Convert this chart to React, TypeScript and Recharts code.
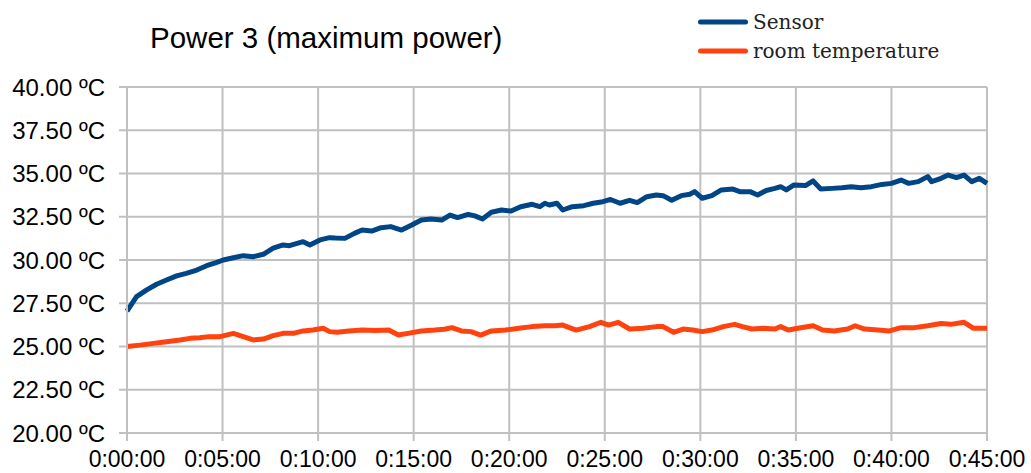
import React from "react";
import { LineChart, Line, XAxis, YAxis, CartesianGrid, Legend } from "recharts";

const chartTitle = "Power 3 (maximum power)";
const sensorName = "Sensor";
const roomName = "room temperature";

const xTicks = [0, 300, 600, 900, 1200, 1500, 1800, 2100, 2400, 2700];
const yTicks = [20, 22.5, 25, 27.5, 30, 32.5, 35, 37.5, 40];

const sensorTimes = [
  0, 30, 62, 93, 124, 156, 186, 219, 250, 282, 302, 334, 365, 396, 428, 459, 490, 510, 553, 574,
  606, 636, 654, 684, 714, 738, 768, 798, 828, 862, 894, 924, 954, 988, 1014, 1038, 1071, 1092,
  1116, 1144, 1176, 1206, 1236, 1272, 1296, 1312, 1326, 1350, 1368, 1398, 1434, 1464, 1494, 1518,
  1548, 1578, 1602, 1632, 1662, 1683, 1710, 1740, 1767, 1782, 1806, 1836, 1866, 1902, 1924, 1956,
  1980, 2007, 2034, 2052, 2070, 2094, 2130, 2154, 2178, 2214, 2244, 2274, 2304, 2337, 2370, 2400,
  2430, 2454, 2484, 2514, 2526, 2556, 2578, 2604, 2628, 2652, 2676, 2700,
];
const sensorValues = [
  27.05, 27.88, 28.27, 28.6, 28.84, 29.08, 29.23, 29.42, 29.67, 29.86, 30.0, 30.13, 30.25, 30.19,
  30.33, 30.68, 30.87, 30.83, 31.06, 30.87, 31.16, 31.29, 31.27, 31.25, 31.54, 31.73, 31.67, 31.87,
  31.93, 31.73, 32.02, 32.31, 32.37, 32.31, 32.6, 32.45, 32.64, 32.55, 32.37, 32.76, 32.89, 32.83,
  33.08, 33.22, 33.08, 33.28, 33.18, 33.28, 32.89, 33.08, 33.14, 33.28, 33.37, 33.5, 33.28, 33.45,
  33.32, 33.66, 33.76, 33.72, 33.45, 33.72, 33.8, 33.95, 33.57, 33.72, 34.05, 34.1, 33.95, 33.95,
  33.76, 34.02, 34.14, 34.24, 34.05, 34.34, 34.3, 34.57, 34.1, 34.14, 34.18, 34.24, 34.18, 34.24,
  34.37, 34.43, 34.62, 34.43, 34.53, 34.82, 34.53, 34.72, 34.91, 34.76, 34.91, 34.53, 34.72, 34.43,
];

const roomTimes = [
  0, 41, 83, 124, 166, 198, 228, 258, 292, 334, 365, 396, 428, 459, 490, 522, 553, 584, 616, 636,
  660, 696, 738, 780, 822, 852, 882, 924, 966, 996, 1020, 1050, 1080, 1110, 1144, 1188, 1230, 1272,
  1314, 1344, 1368, 1410, 1452, 1488, 1512, 1542, 1578, 1620, 1662, 1683, 1716, 1746, 1776, 1806,
  1836, 1872, 1908, 1932, 1962, 1998, 2034, 2052, 2076, 2106, 2154, 2184, 2220, 2262, 2286, 2316,
  2358, 2394, 2430, 2472, 2514, 2556, 2586, 2628, 2658, 2700,
];
const roomValues = [
  25.0, 25.08, 25.18, 25.28, 25.38, 25.47, 25.5, 25.57, 25.57, 25.76, 25.57, 25.38, 25.43, 25.63,
  25.76, 25.76, 25.9, 25.95, 26.05, 25.86, 25.82, 25.9, 25.95, 25.92, 25.95, 25.66, 25.76, 25.9,
  25.95, 26.0, 26.09, 25.9, 25.86, 25.66, 25.9, 25.95, 26.05, 26.15, 26.2, 26.2, 26.24, 25.95,
  26.15, 26.4, 26.24, 26.4, 26.01, 26.05, 26.15, 26.15, 25.82, 26.01, 25.95, 25.86, 25.95, 26.15,
  26.28, 26.15, 26.01, 26.05, 26.01, 26.15, 25.95, 26.05, 26.2, 25.95, 25.9, 26.01, 26.2, 26.01,
  25.95, 25.9, 26.09, 26.09, 26.2, 26.33, 26.28, 26.4, 26.05, 26.05,
];

const sensorData = sensorTimes.map((t, i) => ({ t, v: sensorValues[i] }));
const roomData = roomTimes.map((t, i) => ({ t, v: roomValues[i] }));

const fmtTime = (s: number) => {
  const h = Math.floor(s / 3600);
  const m = Math.floor((s % 3600) / 60);
  const sec = Math.round(s % 60);
  return `${h}:${String(m).padStart(2, "0")}:${String(sec).padStart(2, "0")}`;
};
const fmtTemp = (v: number) => `${v.toFixed(2)} ºC`;

const GRID = "#c0c0c0";
const sansFont = "'Liberation Sans', Arial, sans-serif";

const renderLegend = (props: any) => {
  const payload = props.payload || [];
  return (
    <div style={{ position: "relative", width: 333, height: 70 }}>
      {payload.map((entry: any, i: number) => (
        <div
          key={i}
          style={{
            position: "absolute",
            left: 0,
            top: 22 + 29 * i - 15,
            height: 30,
            display: "flex",
            alignItems: "center",
            whiteSpace: "nowrap",
          }}
        >
          <svg width={50} height={6} style={{ display: "block" }}>
            <line x1={2.5} y1={3} x2={47.5} y2={3} stroke={entry.color} strokeWidth={5} strokeLinecap="round" />
          </svg>
          <span
            style={{
              marginLeft: 5,
              fontFamily: "'DejaVu Serif', serif",
              fontSize: 20,
              color: "#222",
              lineHeight: "30px",
            }}
          >
            {entry.value}
          </span>
        </div>
      ))}
    </div>
  );
};

export default function App() {
  return (
    <div style={{ position: "absolute", left: 0, top: 0, width: 1031, height: 473, background: "#fff" }}>
      <div
        style={{
          position: "absolute",
          left: 150,
          top: 23,
          fontFamily: sansFont,
          fontSize: 29.5,
          lineHeight: "29.5px",
          color: "#000",
          whiteSpace: "nowrap",
        }}
      >
        {chartTitle}
      </div>
      <LineChart width={1031} height={473} margin={{ top: 87, right: 44, bottom: 0, left: 0 }}>
        <CartesianGrid stroke={GRID} strokeWidth={2} />
        <XAxis
          dataKey="t"
          type="number"
          domain={[0, 2700]}
          ticks={xTicks}
          interval={0}
          tickFormatter={fmtTime}
          height={40}
          tickSize={8}
          tickMargin={10}
          axisLine={{ stroke: GRID, strokeWidth: 2 }}
          tickLine={{ stroke: GRID, strokeWidth: 2 }}
          tick={{ fill: "#000", fontSize: 23, fontFamily: sansFont }}
          allowDuplicatedCategory={false}
        />
        <YAxis
          type="number"
          domain={[20, 40]}
          ticks={yTicks}
          interval={0}
          tickFormatter={fmtTemp}
          width={127}
          tickSize={8}
          tickMargin={14}
          axisLine={{ stroke: GRID, strokeWidth: 2 }}
          tickLine={{ stroke: GRID, strokeWidth: 2 }}
          tick={{ fill: "#000", fontSize: 24, fontFamily: sansFont }}
        />
        <Legend
          layout="vertical"
          verticalAlign="middle"
          align="center"
          content={renderLegend}
          wrapperStyle={{ position: "absolute", left: 698, top: 0, width: 333, height: 70 }}
        />
        <Line
          data={sensorData}
          dataKey="v"
          name={sensorName}
          type="linear"
          stroke="#004586"
          strokeWidth={5}
          strokeLinejoin="round"
          dot={false}
          activeDot={false}
          isAnimationActive={false}
        />
        <Line
          data={roomData}
          dataKey="v"
          name={roomName}
          type="linear"
          stroke="#ff420e"
          strokeWidth={5}
          strokeLinejoin="round"
          dot={false}
          activeDot={false}
          isAnimationActive={false}
        />
      </LineChart>
    </div>
  );
}
